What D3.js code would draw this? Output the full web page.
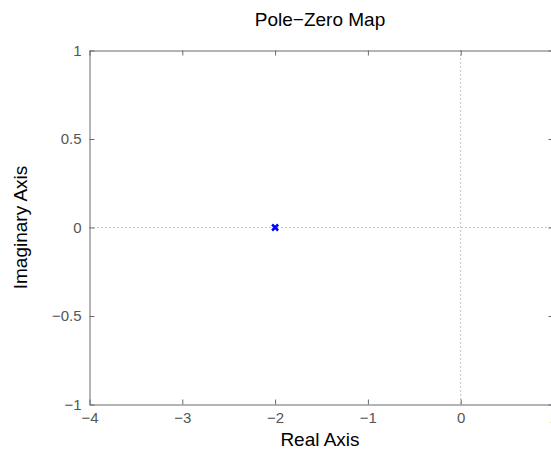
<!DOCTYPE html>
<html><head><meta charset="utf-8">
<script src="https://cdn.jsdelivr.net/npm/d3@7"></script>
<style>body{margin:0;background:#fff}svg{display:block}</style>
</head><body>
<svg id="c" width="551" height="450"></svg>
<script>
const titleText = "Pole\u2212Zero Map";
const xLabel = "Real Axis";
const yLabel = "Imaginary Axis";
const xDomain = [-4, 1];
const yDomain = [-1, 1];
const xTicks = [-4, -3, -2, -1, 0, 1];
const yTicks = [-1, -0.5, 0, 0.5, 1];
const poleRe = [-2];
const poleIm = [0];

const svg = d3.select("#c");
const L = 89.5, R = 553.5, T = 50.5, B = 404.5;
const x = d3.scaleLinear().domain(xDomain).range([L, R]);
const y = d3.scaleLinear().domain(yDomain).range([B, T]);
const fmt = d => (d < 0 ? "\u2212" : "") + Math.abs(d);
const font = "Liberation Sans, Arial, sans-serif";
const axisCol = "#6a6a6a";

// dotted zero lines
svg.append("line").attr("x1", L).attr("x2", R).attr("y1", y(0)).attr("y2", y(0))
  .attr("stroke", "#888").attr("stroke-width", 1).attr("stroke-dasharray", "1,3");
svg.append("line").attr("x1", x(0)).attr("x2", x(0)).attr("y1", T).attr("y2", B)
  .attr("stroke", "#888").attr("stroke-width", 1).attr("stroke-dasharray", "1,3");

// axes (ticks inward)
const bx = svg.append("g").attr("transform", `translate(0,${B})`)
  .call(d3.axisBottom(x).tickValues(xTicks).tickFormat(fmt).tickSizeInner(-5).tickSizeOuter(0).tickPadding(8));
const tx = svg.append("g").attr("transform", `translate(0,${T})`)
  .call(d3.axisTop(x).tickValues(xTicks).tickFormat("").tickSizeInner(-5).tickSizeOuter(0));
const ly = svg.append("g").attr("transform", `translate(${L},0)`)
  .call(d3.axisLeft(y).tickValues(yTicks).tickFormat(fmt).tickSizeInner(-5).tickSizeOuter(0).tickPadding(8));
const ry = svg.append("g").attr("transform", `translate(${R},0)`)
  .call(d3.axisRight(y).tickValues(yTicks).tickFormat("").tickSizeInner(-5).tickSizeOuter(0));
[bx, tx, ly, ry].forEach(g => {
  g.selectAll("path").attr("stroke", axisCol).attr("stroke-width", 1);
  g.selectAll("line").attr("stroke", axisCol).attr("stroke-width", 1);
  g.selectAll("text").attr("fill", "#555").style("font-family", font).style("font-size", "15px");
});

// pole marker (x)
const s = 3;
svg.append("g").selectAll("path").data(poleRe.map((r, i) => [r, poleIm[i]])).join("path")
  .attr("d", d => { const cx = x(d[0]), cy = y(d[1]);
    return `M${cx-s},${cy-s}L${cx+s},${cy+s}M${cx-s},${cy+s}L${cx+s},${cy-s}`; })
  .attr("stroke", "#0000ff").attr("stroke-width", 2.5).attr("fill", "none");

// labels
svg.append("text").attr("x", 320).attr("y", 26).attr("text-anchor", "middle")
  .style("font-family", font).style("font-size", "19px").attr("fill", "#000").text(titleText);
svg.append("text").attr("x", 320).attr("y", 446).attr("text-anchor", "middle")
  .style("font-family", font).style("font-size", "19px").attr("fill", "#000").text(xLabel);
svg.append("text").attr("transform", `translate(27,${y(0)}) rotate(-90)`).attr("text-anchor", "middle")
  .style("font-family", font).style("font-size", "19px").attr("fill", "#000").text(yLabel);
</script>
</body></html>
